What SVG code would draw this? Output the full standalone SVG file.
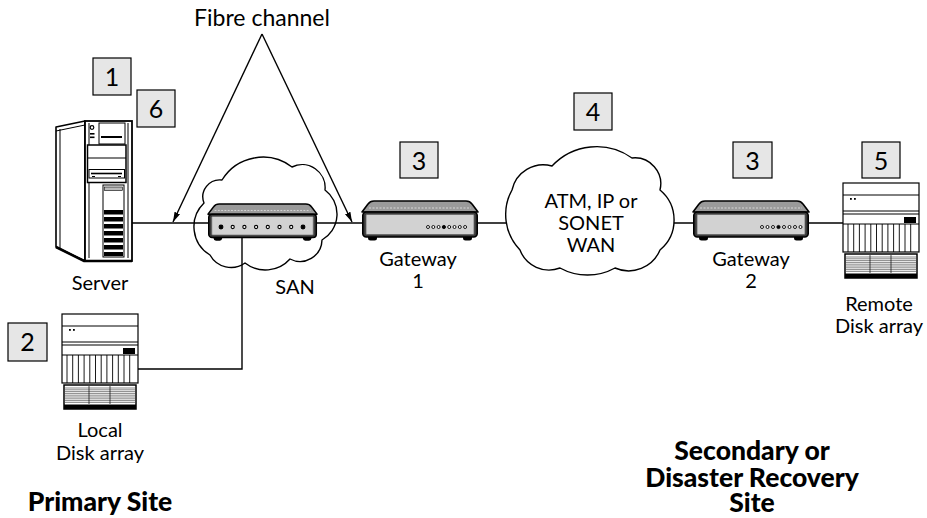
<svg xmlns="http://www.w3.org/2000/svg" xmlns:xlink="http://www.w3.org/1999/xlink" width="927" height="518" viewBox="0 0 927 518">
  <style>
    .lbl { font-family: Lato, "Open Sans", "Liberation Sans", sans-serif; font-size: 20px; fill: #000; text-anchor: middle; }
    .big { font-family: Lato, "Open Sans", "Liberation Sans", sans-serif; font-size: 23px; fill: #000; text-anchor: middle; }
    .site { font-family: Lato, "Open Sans", "Liberation Sans", sans-serif; font-size: 26.5px; font-weight: 900; fill: #000; text-anchor: middle; }
    .num { font-family: Lato, "Open Sans", "Liberation Sans", sans-serif; font-size: 25px; fill: #000; text-anchor: middle; }
    .tag { fill: #e6e6e6; stroke: #000; stroke-width: 1.2; }
    .wire { fill: none; stroke: #000; stroke-width: 1.4; }
    .cloud { fill: #fff; stroke: #000; stroke-width: 1.4; stroke-linejoin: round; }
    .ln { fill: none; stroke: #000; }
  </style>
  <defs>
    <marker id="arrow" viewBox="0 0 10 6" refX="10" refY="3" markerWidth="10" markerHeight="6" markerUnits="userSpaceOnUse" orient="auto">
      <path d="M0,0 L10,3 L0,6 Z" fill="#000"/>
    </marker>
    <!-- desktop box used for the SAN switch and the gateways -->
    <g id="deviceBody">
      <path d="M12,1 H104 Q108,1 110,4 L116,12 H0 L6,4 Q8,1 12,1 Z" fill="#9a9a9a" stroke="#000" stroke-width="1.6" stroke-linejoin="round"/>
      <path d="M7,8 H109" stroke="#d6d6d6" stroke-width="1" stroke-dasharray="2 1.5"/>
      <rect x="6" y="35" width="9" height="5.5" rx="2.5" fill="#000"/>
      <rect x="101" y="35" width="9" height="5.5" rx="2.5" fill="#000"/>
      <rect x="0.8" y="12" width="114.4" height="25" rx="3.5" fill="#3a3a3a" stroke="#000" stroke-width="1.6"/>
      <rect x="4" y="14.5" width="108" height="20" rx="1" fill="#d2d2d2" stroke="#666" stroke-width="0.8"/>
    </g>
    <!-- rack disk array -->
    <g id="diskArray">
      <rect x="0" y="0" width="76" height="69" fill="#fff" stroke="#000" stroke-width="1.2"/>
      <path class="ln" stroke-width="1" d="M0,12 H76 M0,28 H76 M0,31 H76 M0,41 H76"/>
      <rect x="7" y="15" width="1.8" height="1.8" fill="#000"/>
      <rect x="11" y="15" width="1.8" height="1.8" fill="#000"/>
      <rect x="61" y="34" width="12" height="6" fill="#000"/>
      <path class="ln" stroke-width="0.9" d="M5,41 V69 M10.7,41 V69 M16.4,41 V69 M22.1,41 V69 M27.8,41 V69 M33.5,41 V69 M39.2,41 V69 M44.9,41 V69 M50.6,41 V69 M56.3,41 V69 M62,41 V69 M67.7,41 V69"/>
      <rect x="2" y="71" width="72" height="24" fill="#fff" stroke="#000" stroke-width="1.5"/>
      <path stroke="#555" stroke-width="0.7" d="M3,74 H73 M3,75.8 H73 M3,77.6 H73 M3,79.4 H73 M3,81.2 H73 M3,83 H73 M3,84.8 H73 M3,86.6 H73 M3,88.4 H73"/>
      <path class="ln" stroke-width="0.7" stroke="#555" d="M27,72 V90 M48,72 V90"/>
      <rect x="2" y="90.5" width="72" height="4.5" fill="#000"/>
    </g>
  </defs>

  <rect width="927" height="518" fill="#fff"/>

  <!-- SAN cloud (open, the links show through) -->
  <g id="san-cloud">
    <path class="cloud" style="fill:none" d="M204,203 A17,17 0 0 1 222,180 A48,48 0 0 1 292,167 A23,23 0 0 1 325,190 A30,30 0 0 1 322,240 A22,22 0 0 1 290,259 A33,33 0 0 1 245,263 A24,24 0 0 1 210,255 A33,33 0 0 1 204,203 Z"/>
  </g>

  <!-- links -->
  <g id="connectors">
    <path class="wire" d="M132,223 H843"/>
    <path class="wire" d="M242,237 V369 H138"/>
    <path class="wire" marker-end="url(#arrow)" d="M262,34 L173,222"/>
    <path class="wire" marker-end="url(#arrow)" d="M262,34 L352,222"/>
  </g>

  <text class="big" x="262" y="26">Fibre channel</text>

  <!-- server tower -->
  <g id="server">
    <polygon points="56,127 85,121 85,261 56,247" fill="#fff" stroke="#000" stroke-width="1.6" stroke-linejoin="round"/>
    <path class="ln" stroke-width="1" d="M56,131 L85,125 M60,129 V248"/>
    <rect x="85" y="121" width="47" height="140" fill="#fff" stroke="#000" stroke-width="1.8"/>
    <path class="ln" stroke-width="2.6" d="M56,247 L84,261 H132"/>
    <path class="ln" stroke-width="1" d="M89,123 V258 M128,123 V258"/>
    <circle cx="92" cy="127.5" r="1.8" fill="none" stroke="#000" stroke-width="1.2"/>
    <rect x="90" y="133" width="4.5" height="1.6" fill="#000"/>
    <rect x="90" y="136.5" width="4.5" height="1.6" fill="#000"/>
    <rect x="99" y="123" width="26" height="21" fill="#fff" stroke="#000" stroke-width="1"/>
    <path class="ln" stroke-width="2" d="M101,137 H122"/>
    <rect x="87.5" y="145" width="38.5" height="37.5" fill="#fff" stroke="#000" stroke-width="1.5"/>
    <path class="ln" stroke-width="1.2" d="M87.5,158 H126"/>
    <rect x="89" y="169.5" width="35.5" height="8.5" fill="#fff" stroke="#000" stroke-width="1"/>
    <path class="ln" stroke-width="1.6" d="M91,173.5 H122"/>
    <path class="ln" stroke-width="1" d="M92,176.5 H95 M118,176.5 H121"/>
    <rect x="103" y="185" width="21" height="72" fill="#fff" stroke="#000" stroke-width="1"/>
    <rect x="104.5" y="187" width="18" height="3.5" fill="#bbb" stroke="#000" stroke-width="0.6"/>
    <path fill="#000" d="M104,210 h19 v4.5 h-19 Z M104,217 h19 v4.5 h-19 Z M104,224 h19 v4.5 h-19 Z M104,231 h19 v4.5 h-19 Z M104,238 h19 v4.5 h-19 Z M104,245 h19 v4.5 h-19 Z M104,252 h19 v4 h-19 Z"/>
    <text class="lbl" x="100" y="290">Server</text>
  </g>
  <g id="tag-1"><rect class="tag" x="93" y="58" width="38" height="37"/><text class="num" x="112" y="86">1</text></g>
  <g id="tag-6"><rect class="tag" x="137" y="90" width="38" height="37"/><text class="num" x="156" y="118">6</text></g>

  <!-- SAN switch -->
  <g id="san-switch">
    <use xlink:href="#deviceBody" href="#deviceBody" transform="translate(208,203) scale(0.94,0.93)"/>
    <g stroke="#000" stroke-width="1.1">
      <circle cx="221" cy="227" r="1.9" fill="#000"/>
      <circle cx="232.7" cy="227" r="1.6" fill="#fff"/>
      <circle cx="244.4" cy="227" r="1.6" fill="#fff"/>
      <circle cx="256.1" cy="227" r="1.6" fill="#fff"/>
      <circle cx="267.8" cy="227" r="1.6" fill="#fff"/>
      <circle cx="279.5" cy="227" r="1.6" fill="#fff"/>
      <circle cx="291.2" cy="227" r="1.6" fill="#fff"/>
      <circle cx="303" cy="227" r="1.9" fill="#000"/>
    </g>
    <text class="lbl" x="295" y="294">SAN</text>
  </g>

  <!-- local disk array -->
  <g id="local-disk">
    <use xlink:href="#diskArray" href="#diskArray" transform="translate(62,314)"/>
    <text class="lbl" x="100" y="437">Local</text>
    <text class="lbl" x="100" y="460">Disk array</text>
  </g>
  <g id="tag-2"><rect class="tag" x="8" y="323" width="39" height="38"/><text class="num" x="27.5" y="351">2</text></g>

  <!-- gateway 1 -->
  <g id="gateway-1">
    <use xlink:href="#deviceBody" href="#deviceBody" transform="translate(362,200)"/>
    <g stroke="#000" stroke-width="0.9" fill="#fff">
      <circle cx="428" cy="227" r="1.5"/><circle cx="433.3" cy="227" r="1.5"/><circle cx="438.6" cy="227" r="1.5"/>
      <circle cx="443.9" cy="227" r="1.6" fill="#000"/>
      <circle cx="449.2" cy="227" r="1.5"/><circle cx="454.5" cy="227" r="1.5"/><circle cx="459.8" cy="227" r="1.5"/><circle cx="465.1" cy="227" r="1.5"/>
    </g>
    <text class="lbl" x="418" y="266">Gateway</text>
    <text class="lbl" x="418" y="288">1</text>
  </g>
  <g id="tag-3a"><rect class="tag" x="400" y="142" width="38" height="36"/><text class="num" x="419" y="170">3</text></g>

  <!-- WAN cloud -->
  <g id="wan">
    <path class="cloud" d="M512,190 A32,32 0 0 1 552,166 A61,61 0 0 1 632,158 A26,26 0 0 1 660,190 A39,39 0 0 1 660,250 A34,34 0 0 1 615,268 A57,57 0 0 1 560,268 A31,31 0 0 1 520,250 A51,51 0 0 1 512,190 Z"/>
    <text class="lbl" x="591" y="208">ATM, IP or</text>
    <text class="lbl" x="591" y="230">SONET</text>
    <text class="lbl" x="591" y="252">WAN</text>
  </g>
  <g id="tag-4"><rect class="tag" x="574" y="93" width="38" height="37"/><text class="num" x="593" y="121">4</text></g>

  <!-- gateway 2 -->
  <g id="gateway-2">
    <use xlink:href="#deviceBody" href="#deviceBody" transform="translate(693,200)"/>
    <g stroke="#000" stroke-width="0.9" fill="#fff">
      <circle cx="762" cy="227" r="1.5"/><circle cx="767.5" cy="227" r="1.5"/><circle cx="773" cy="227" r="1.5"/>
      <circle cx="778.5" cy="227" r="1.6" fill="#000"/>
      <circle cx="784" cy="227" r="1.5"/><circle cx="789.5" cy="227" r="1.5"/><circle cx="795" cy="227" r="1.5"/><circle cx="800.5" cy="227" r="1.5"/>
    </g>
    <text class="lbl" x="751" y="266">Gateway</text>
    <text class="lbl" x="751" y="288">2</text>
  </g>
  <g id="tag-3b"><rect class="tag" x="733" y="142" width="39" height="36"/><text class="num" x="752.5" y="170">3</text></g>

  <!-- remote disk array -->
  <g id="remote-disk">
    <use xlink:href="#diskArray" href="#diskArray" transform="translate(843,183)"/>
    <text class="lbl" x="879" y="311">Remote</text>
    <text class="lbl" x="879" y="333">Disk array</text>
  </g>
  <g id="tag-5"><rect class="tag" x="862" y="142" width="38" height="36"/><text class="num" x="881" y="170">5</text></g>

  <!-- site captions -->
  <text class="site" x="100" y="511">Primary Site</text>
  <text class="site" x="752" y="460">Secondary or</text>
  <text class="site" x="752" y="487">Disaster Recovery</text>
  <text class="site" x="752" y="512">Site</text>
</svg>
